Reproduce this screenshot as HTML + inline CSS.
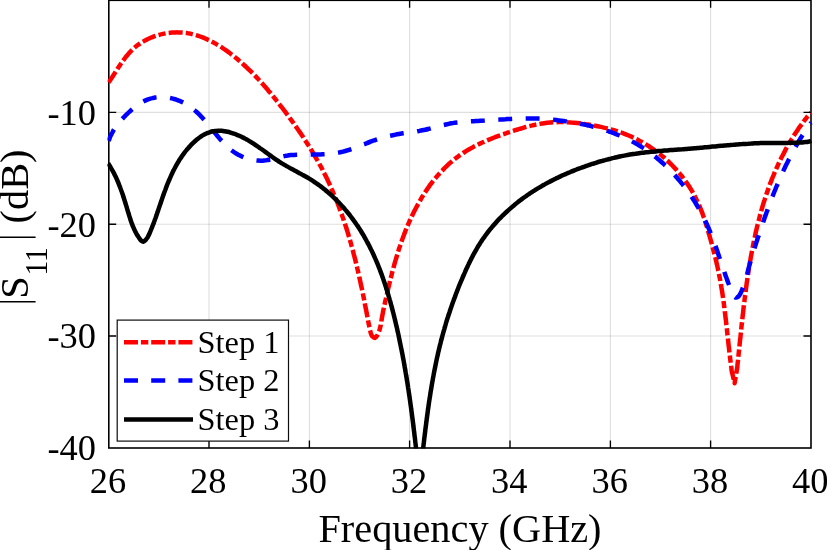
<!DOCTYPE html>
<html>
<head>
<meta charset="utf-8">
<title>S11 plot</title>
<style>
html,body{margin:0;padding:0;background:#fff;}
body{width:827px;height:550px;overflow:hidden;font-family:"Liberation Serif",serif;}
svg{display:block;will-change:transform;}
text{font-family:"Liberation Serif",serif;fill:#000;}
.tick{font-size:36.4px;}
.lab{font-size:40.3px;}
.leg{font-size:32.4px;}
</style>
</head>
<body>
<svg width="827" height="550" viewBox="0 0 827 550">
<rect x="0" y="0" width="827" height="550" fill="#ffffff"/>
<defs>
<clipPath id="box"><rect x="107.4" y="0" width="705.2" height="448.6"/></clipPath>
</defs>
<!-- grid -->
<g stroke="#262626" stroke-opacity="0.15" stroke-width="1.15" fill="none">
<line x1="209" y1="0" x2="209" y2="448"/>
<line x1="309.4" y1="0" x2="309.4" y2="448"/>
<line x1="409.6" y1="0" x2="409.6" y2="448"/>
<line x1="510" y1="0" x2="510" y2="448"/>
<line x1="610.4" y1="0" x2="610.4" y2="448"/>
<line x1="710.6" y1="0" x2="710.6" y2="448"/>
<line x1="108.7" y1="112.4" x2="811" y2="112.4"/>
<line x1="108.7" y1="224.2" x2="811" y2="224.2"/>
<line x1="108.7" y1="336" x2="811" y2="336"/>
</g>
<!-- axes box -->
<g stroke="#000" stroke-width="1.6" fill="none">
<rect x="108.8" y="0.3" width="702.2" height="447.7"/>
</g>
<!-- curves -->
<g clip-path="url(#box)" fill="none" stroke-width="4.5" stroke-linejoin="round">
<path stroke="#ff0000" stroke-dasharray="14.05 3.1 7.2 3.1" stroke-dashoffset="1.16" d="M108.7 82.5C109.0 82.1 109.8 80.8 110.3 80.0C110.9 79.1 111.4 78.3 112.0 77.5C112.5 76.6 113.1 75.8 113.6 74.9C114.2 74.1 114.7 73.2 115.2 72.4C115.8 71.5 116.3 70.7 116.9 69.8C117.4 69.0 117.9 68.1 118.5 67.3C119.1 66.5 119.6 65.6 120.2 64.8C120.7 64.0 121.3 63.1 121.9 62.3C122.4 61.5 123.0 60.7 123.6 59.9C124.2 59.1 124.8 58.3 125.4 57.5C126.0 56.7 126.6 56.0 127.3 55.2C127.9 54.4 128.6 53.7 129.2 53.0C129.9 52.2 130.6 51.5 131.2 50.8C131.9 50.1 132.6 49.4 133.4 48.7C134.1 48.1 134.8 47.4 135.6 46.8C136.4 46.2 137.2 45.5 138.0 44.9C138.8 44.4 139.6 43.8 140.4 43.2C141.3 42.7 142.1 42.1 143.0 41.6C143.9 41.1 144.8 40.6 145.7 40.1C146.6 39.7 147.5 39.2 148.4 38.8C149.4 38.3 150.3 37.9 151.2 37.5C152.2 37.1 153.2 36.8 154.1 36.4C155.1 36.1 156.1 35.7 157.1 35.4C158.0 35.1 159.0 34.8 160.0 34.6C161.0 34.3 162.0 34.1 163.0 33.9C164.0 33.7 165.0 33.5 166.0 33.3C167.1 33.1 168.1 33.0 169.1 32.9C170.1 32.7 171.1 32.6 172.1 32.5C173.1 32.5 174.1 32.4 175.1 32.4C176.1 32.4 177.1 32.3 178.1 32.4C179.1 32.4 180.1 32.4 181.1 32.5C182.1 32.6 183.0 32.6 184.0 32.7C185.0 32.9 186.0 33.0 186.9 33.1C187.9 33.3 188.9 33.5 189.8 33.6C190.8 33.8 191.7 34.0 192.7 34.3C193.6 34.5 194.6 34.8 195.5 35.0C196.5 35.3 197.4 35.6 198.3 35.9C199.3 36.2 200.2 36.5 201.1 36.8C202.0 37.2 203.0 37.5 203.9 37.9C204.8 38.3 205.7 38.7 206.6 39.1C207.5 39.5 208.4 39.9 209.3 40.3C210.2 40.8 211.1 41.2 212.0 41.7C212.8 42.1 213.7 42.6 214.6 43.1C215.5 43.6 216.3 44.1 217.2 44.6C218.1 45.1 218.9 45.6 219.8 46.2C220.6 46.7 221.5 47.2 222.3 47.8C223.1 48.3 224.0 48.9 224.8 49.5C225.6 50.1 226.5 50.6 227.3 51.2C228.1 51.8 228.9 52.4 229.7 53.0C230.5 53.6 231.3 54.3 232.1 54.9C232.9 55.5 233.7 56.1 234.5 56.8C235.3 57.4 236.1 58.1 236.9 58.7C237.6 59.4 238.4 60.0 239.2 60.7C240.0 61.3 240.7 62.0 241.5 62.7C242.2 63.3 243.0 64.0 243.7 64.7C244.5 65.4 245.2 66.0 245.9 66.7C246.7 67.4 247.4 68.1 248.1 68.8C248.8 69.5 249.6 70.2 250.3 70.9C251.0 71.6 251.7 72.3 252.4 73.0C253.1 73.7 253.8 74.4 254.5 75.2C255.2 75.9 255.9 76.6 256.6 77.3C257.3 78.0 257.9 78.8 258.6 79.5C259.3 80.2 260.0 81.0 260.6 81.7C261.3 82.5 262.0 83.2 262.7 84.0C263.3 84.7 264.0 85.5 264.6 86.2C265.3 87.0 265.9 87.7 266.6 88.5C267.2 89.2 267.9 90.0 268.5 90.8C269.2 91.5 269.8 92.3 270.5 93.1C271.1 93.8 271.7 94.6 272.4 95.4C273.0 96.1 273.6 96.9 274.2 97.7C274.9 98.5 275.5 99.3 276.1 100.0C276.7 100.8 277.4 101.6 278.0 102.4C278.6 103.2 279.2 104.0 279.8 104.8C280.4 105.6 281.0 106.4 281.6 107.1C282.3 107.9 282.9 108.7 283.5 109.5C284.1 110.3 284.7 111.1 285.3 111.9C285.9 112.7 286.5 113.5 287.1 114.3C287.7 115.1 288.3 115.9 288.9 116.7C289.4 117.6 290.0 118.4 290.6 119.2C291.2 120.0 291.8 120.8 292.4 121.6C293.0 122.4 293.6 123.2 294.1 124.0C294.7 124.9 295.3 125.7 295.9 126.5C296.4 127.3 297.0 128.1 297.6 129.0C298.2 129.8 298.7 130.6 299.3 131.4C299.9 132.3 300.4 133.1 301.0 133.9C301.5 134.7 302.1 135.6 302.7 136.4C303.2 137.2 303.8 138.1 304.3 138.9C304.9 139.7 305.4 140.6 305.9 141.4C306.5 142.3 307.0 143.1 307.6 144.0C308.1 144.8 308.6 145.6 309.2 146.5C309.7 147.3 310.2 148.2 310.7 149.0C311.3 149.9 311.8 150.7 312.3 151.6C312.8 152.5 313.3 153.3 313.8 154.2C314.3 155.0 314.8 155.9 315.3 156.8C315.8 157.6 316.3 158.5 316.8 159.4C317.3 160.2 317.8 161.1 318.3 162.0C318.8 162.9 319.3 163.7 319.7 164.6C320.2 165.5 320.7 166.4 321.2 167.2C321.6 168.1 322.1 169.0 322.6 169.9C323.0 170.8 323.5 171.7 323.9 172.6C324.4 173.5 324.8 174.4 325.3 175.3C325.7 176.1 326.2 177.0 326.6 177.9C327.0 178.8 327.5 179.8 327.9 180.7C328.3 181.6 328.7 182.5 329.2 183.4C329.6 184.3 330.0 185.2 330.4 186.1C330.8 187.0 331.2 187.9 331.6 188.9C332.0 189.8 332.4 190.7 332.8 191.6C333.2 192.5 333.6 193.4 334.0 194.4C334.4 195.3 334.8 196.2 335.1 197.1C335.5 198.1 335.9 199.0 336.3 199.9C336.6 200.9 337.0 201.8 337.4 202.7C337.7 203.7 338.1 204.6 338.5 205.5C338.8 206.5 339.2 207.4 339.5 208.4C339.9 209.3 340.2 210.2 340.6 211.2C340.9 212.1 341.2 213.1 341.6 214.0C341.9 215.0 342.2 215.9 342.6 216.8C342.9 217.8 343.2 218.7 343.6 219.7C343.9 220.6 344.2 221.6 344.5 222.5C344.8 223.5 345.1 224.5 345.5 225.4C345.8 226.4 346.1 227.3 346.4 228.3C346.7 229.2 347.0 230.2 347.3 231.1C347.6 232.1 347.9 233.1 348.2 234.0C348.5 235.0 348.7 235.9 349.0 236.9C349.3 237.9 349.6 238.8 349.9 239.8C350.2 240.8 350.4 241.7 350.7 242.7C351.0 243.7 351.2 244.6 351.5 245.6C351.8 246.5 352.0 247.5 352.3 248.5C352.6 249.4 352.8 250.4 353.1 251.4C353.3 252.4 353.6 253.3 353.8 254.3C354.1 255.3 354.3 256.2 354.6 257.2C354.8 258.2 355.1 259.1 355.3 260.1C355.6 261.1 355.8 262.1 356.0 263.0C356.3 264.0 356.5 265.0 356.7 265.9C357.0 266.9 357.2 267.9 357.4 268.9C357.7 269.8 357.9 270.8 358.1 271.8C358.3 272.8 358.6 273.7 358.8 274.7C359.0 275.7 359.2 276.7 359.4 277.6C359.7 278.6 359.9 279.6 360.1 280.6C360.3 281.5 360.5 282.5 360.7 283.5C360.9 284.5 361.1 285.5 361.3 286.4C361.6 287.4 361.8 288.4 362.0 289.4C362.2 290.3 362.4 291.3 362.6 292.3C362.8 293.3 363.0 294.3 363.2 295.2C363.4 296.2 363.6 297.2 363.8 298.2C364.0 299.2 364.2 300.1 364.4 301.1C364.6 302.1 364.7 303.1 364.9 304.1C365.1 305.0 365.3 306.0 365.5 307.0C365.7 308.0 365.9 309.0 366.1 310.0C366.3 310.9 366.5 311.9 366.6 312.9C366.8 313.9 367.0 314.9 367.2 315.8C367.4 316.8 367.6 317.8 367.8 318.8C368.0 319.8 368.1 320.8 368.3 321.7C368.5 322.7 368.7 323.7 368.9 324.7C369.1 325.7 369.3 326.6 369.5 327.6C369.7 328.6 369.9 329.6 370.2 330.6C370.4 331.6 370.6 332.6 370.9 333.5C371.3 334.5 371.6 335.6 372.3 336.3C372.9 337.0 374.1 337.9 374.9 337.9C375.6 337.8 376.3 336.8 376.8 336.0C377.4 335.3 377.9 334.3 378.3 333.4C378.7 332.5 379.0 331.5 379.3 330.6C379.6 329.6 379.9 328.7 380.1 327.7C380.4 326.7 380.6 325.7 380.8 324.7C380.9 323.7 381.1 322.7 381.3 321.7C381.4 320.7 381.6 319.7 381.8 318.7C381.9 317.7 382.1 316.7 382.3 315.7C382.5 314.7 382.7 313.7 382.9 312.8C383.0 311.8 383.2 310.8 383.4 309.8C383.7 308.8 383.9 307.9 384.1 306.9C384.3 305.9 384.5 304.9 384.7 304.0C384.9 303.0 385.1 302.0 385.4 301.0C385.6 300.1 385.8 299.1 386.0 298.1C386.2 297.1 386.5 296.2 386.7 295.2C386.9 294.2 387.1 293.3 387.4 292.3C387.6 291.3 387.8 290.3 388.0 289.4C388.3 288.4 388.5 287.4 388.7 286.5C389.0 285.5 389.2 284.5 389.4 283.5C389.7 282.6 389.9 281.6 390.1 280.6C390.4 279.7 390.6 278.7 390.9 277.7C391.1 276.8 391.3 275.8 391.6 274.8C391.8 273.9 392.1 272.9 392.3 271.9C392.6 271.0 392.9 270.0 393.1 269.0C393.4 268.1 393.6 267.1 393.9 266.2C394.2 265.2 394.4 264.2 394.7 263.3C395.0 262.3 395.2 261.3 395.5 260.4C395.8 259.4 396.1 258.5 396.4 257.5C396.7 256.6 396.9 255.6 397.2 254.7C397.5 253.7 397.8 252.7 398.1 251.8C398.4 250.8 398.7 249.9 399.0 248.9C399.3 248.0 399.7 247.0 400.0 246.1C400.3 245.1 400.6 244.2 400.9 243.3C401.3 242.3 401.6 241.4 401.9 240.4C402.3 239.5 402.6 238.5 402.9 237.6C403.3 236.7 403.6 235.7 404.0 234.8C404.3 233.9 404.7 232.9 405.1 232.0C405.4 231.1 405.8 230.1 406.2 229.2C406.6 228.3 406.9 227.3 407.3 226.4C407.7 225.5 408.1 224.6 408.5 223.6C408.9 222.7 409.3 221.8 409.7 220.9C410.1 220.0 410.5 219.0 411.0 218.1C411.4 217.2 411.8 216.3 412.3 215.4C412.7 214.5 413.1 213.6 413.6 212.7C414.0 211.8 414.5 210.9 414.9 210.0C415.4 209.1 415.9 208.2 416.3 207.3C416.8 206.4 417.3 205.5 417.8 204.6C418.3 203.7 418.8 202.8 419.3 202.0C419.8 201.1 420.3 200.2 420.8 199.3C421.3 198.5 421.8 197.6 422.3 196.7C422.9 195.9 423.4 195.0 423.9 194.2C424.5 193.3 425.0 192.5 425.6 191.6C426.1 190.8 426.7 190.0 427.2 189.1C427.8 188.3 428.4 187.5 429.0 186.7C429.5 185.8 430.1 185.0 430.7 184.2C431.3 183.4 431.9 182.6 432.5 181.8C433.2 181.0 433.8 180.2 434.4 179.5C435.0 178.7 435.7 177.9 436.3 177.1C436.9 176.4 437.6 175.6 438.2 174.9C438.9 174.1 439.6 173.4 440.2 172.6C440.9 171.9 441.6 171.2 442.3 170.5C442.9 169.8 443.6 169.0 444.3 168.3C445.0 167.6 445.7 166.9 446.5 166.3C447.2 165.6 447.9 164.9 448.6 164.2C449.4 163.6 450.1 162.9 450.9 162.3C451.6 161.6 452.4 161.0 453.1 160.3C453.9 159.7 454.7 159.1 455.4 158.5C456.2 157.9 457.0 157.3 457.8 156.7C458.6 156.1 459.4 155.5 460.2 155.0C461.0 154.4 461.9 153.8 462.7 153.3C463.5 152.7 464.3 152.2 465.2 151.7C466.0 151.2 466.9 150.6 467.7 150.1C468.6 149.6 469.5 149.1 470.3 148.6C471.2 148.1 472.1 147.6 473.0 147.2C473.8 146.7 474.7 146.2 475.6 145.8C476.5 145.3 477.4 144.9 478.3 144.4C479.2 144.0 480.1 143.5 481.0 143.1C481.9 142.7 482.9 142.3 483.8 141.9C484.7 141.4 485.6 141.0 486.6 140.6C487.5 140.2 488.4 139.8 489.4 139.5C490.3 139.1 491.2 138.7 492.2 138.3C493.1 137.9 494.1 137.6 495.0 137.2C496.0 136.8 496.9 136.5 497.9 136.1C498.8 135.8 499.8 135.4 500.7 135.1C501.7 134.7 502.6 134.4 503.6 134.1C504.6 133.7 505.5 133.4 506.5 133.1C507.4 132.8 508.4 132.4 509.4 132.1C510.3 131.8 511.3 131.5 512.2 131.2C513.2 130.9 514.2 130.5 515.1 130.2C516.1 129.9 517.1 129.6 518.0 129.3C519.0 129.0 519.9 128.8 520.9 128.5C521.9 128.2 522.8 127.9 523.8 127.6C524.8 127.4 525.7 127.1 526.7 126.8C527.7 126.6 528.6 126.3 529.6 126.1C530.5 125.8 531.5 125.6 532.5 125.4C533.5 125.2 534.4 124.9 535.4 124.7C536.4 124.5 537.3 124.3 538.3 124.1C539.3 124.0 540.3 123.8 541.2 123.6C542.2 123.5 543.2 123.3 544.2 123.2C545.1 123.1 546.1 122.9 547.1 122.8C548.1 122.7 549.1 122.6 550.1 122.5C551.1 122.5 552.0 122.4 553.0 122.3C554.0 122.3 555.0 122.2 556.0 122.2C557.0 122.1 558.0 122.1 559.0 122.1C560.0 122.1 561.0 122.1 562.0 122.1C563.0 122.1 564.0 122.1 565.0 122.2C566.0 122.2 567.0 122.2 568.0 122.3C569.0 122.3 570.0 122.4 571.0 122.5C572.0 122.5 573.0 122.6 574.0 122.7C574.9 122.8 575.9 122.9 576.9 123.0C577.9 123.1 578.9 123.2 579.9 123.3C580.9 123.5 581.9 123.6 582.9 123.7C583.9 123.9 584.9 124.0 585.9 124.2C586.9 124.3 587.9 124.5 588.9 124.6C589.9 124.8 590.9 125.0 591.9 125.2C592.9 125.3 593.9 125.5 594.9 125.7C595.9 125.9 596.8 126.1 597.8 126.3C598.8 126.5 599.8 126.7 600.8 126.9C601.8 127.1 602.8 127.3 603.7 127.6C604.7 127.8 605.7 128.0 606.7 128.3C607.6 128.5 608.6 128.8 609.6 129.0C610.5 129.3 611.5 129.5 612.5 129.8C613.4 130.1 614.4 130.4 615.4 130.7C616.3 130.9 617.3 131.2 618.2 131.6C619.2 131.9 620.1 132.2 621.1 132.5C622.0 132.9 622.9 133.2 623.9 133.6C624.8 133.9 625.7 134.3 626.7 134.7C627.6 135.1 628.5 135.4 629.4 135.8C630.4 136.2 631.3 136.7 632.2 137.1C633.1 137.5 634.0 137.9 634.9 138.4C635.8 138.8 636.7 139.3 637.6 139.7C638.5 140.2 639.3 140.6 640.2 141.1C641.1 141.6 642.0 142.1 642.8 142.6C643.7 143.1 644.6 143.6 645.4 144.1C646.3 144.6 647.1 145.2 648.0 145.7C648.8 146.2 649.7 146.8 650.5 147.3C651.3 147.9 652.1 148.5 653.0 149.0C653.8 149.6 654.6 150.2 655.4 150.8C656.2 151.4 657.0 152.0 657.8 152.6C658.6 153.2 659.4 153.8 660.2 154.4C661.0 155.1 661.7 155.7 662.5 156.4C663.3 157.0 664.0 157.6 664.8 158.3C665.5 159.0 666.3 159.6 667.0 160.3C667.8 161.0 668.5 161.7 669.2 162.4C669.9 163.1 670.6 163.8 671.4 164.5C672.1 165.2 672.8 165.9 673.4 166.6C674.1 167.3 674.8 168.1 675.5 168.8C676.2 169.5 676.8 170.3 677.5 171.0C678.2 171.8 678.8 172.5 679.5 173.3C680.1 174.1 680.7 174.8 681.3 175.6C682.0 176.4 682.6 177.2 683.2 178.0C683.8 178.8 684.4 179.6 685.0 180.4C685.6 181.2 686.2 182.0 686.7 182.8C687.3 183.7 687.8 184.5 688.4 185.3C688.9 186.1 689.5 187.0 690.0 187.8C690.5 188.7 691.1 189.5 691.6 190.4C692.1 191.2 692.6 192.1 693.1 193.0C693.6 193.8 694.1 194.7 694.5 195.6C695.0 196.5 695.5 197.4 695.9 198.3C696.3 199.2 696.8 200.1 697.2 201.0C697.6 201.9 698.1 202.8 698.5 203.7C698.9 204.6 699.3 205.5 699.7 206.4C700.0 207.3 700.4 208.3 700.8 209.2C701.2 210.1 701.5 211.1 701.9 212.0C702.2 212.9 702.6 213.9 702.9 214.8C703.3 215.8 703.6 216.7 703.9 217.7C704.3 218.6 704.6 219.6 704.9 220.5C705.2 221.5 705.5 222.4 705.8 223.4C706.1 224.4 706.4 225.3 706.7 226.3C707.0 227.2 707.3 228.2 707.6 229.2C707.9 230.1 708.2 231.1 708.4 232.1C708.7 233.0 709.0 234.0 709.3 235.0C709.5 235.9 709.8 236.9 710.1 237.9C710.4 238.8 710.6 239.8 710.9 240.8C711.2 241.7 711.4 242.7 711.7 243.7C711.9 244.6 712.2 245.6 712.5 246.6C712.7 247.5 713.0 248.5 713.2 249.5C713.5 250.4 713.7 251.4 714.0 252.4C714.2 253.3 714.5 254.3 714.7 255.3C715.0 256.2 715.2 257.2 715.5 258.2C715.7 259.1 715.9 260.1 716.2 261.1C716.4 262.0 716.6 263.0 716.8 264.0C717.1 264.9 717.3 265.9 717.5 266.9C717.7 267.9 717.9 268.8 718.1 269.8C718.3 270.8 718.6 271.8 718.8 272.7C718.9 273.7 719.1 274.7 719.3 275.7C719.5 276.6 719.7 277.6 719.9 278.6C720.1 279.6 720.3 280.6 720.4 281.6C720.6 282.5 720.8 283.5 720.9 284.5C721.1 285.5 721.3 286.5 721.4 287.5C721.6 288.5 721.8 289.4 721.9 290.4C722.1 291.4 722.2 292.4 722.4 293.4C722.5 294.4 722.7 295.4 722.8 296.4C723.0 297.4 723.1 298.4 723.2 299.3C723.4 300.3 723.5 301.3 723.7 302.3C723.8 303.3 723.9 304.3 724.0 305.3C724.2 306.3 724.3 307.3 724.4 308.3C724.6 309.3 724.7 310.3 724.8 311.3C724.9 312.3 725.1 313.3 725.2 314.3C725.3 315.3 725.4 316.3 725.5 317.3C725.6 318.3 725.8 319.3 725.9 320.2C726.0 321.2 726.1 322.2 726.2 323.2C726.3 324.2 726.4 325.2 726.6 326.2C726.7 327.2 726.8 328.2 726.9 329.2C727.0 330.2 727.1 331.2 727.2 332.2C727.3 333.2 727.4 334.2 727.5 335.2C727.7 336.2 727.8 337.2 727.9 338.2C728.0 339.2 728.1 340.2 728.2 341.2C728.3 342.2 728.4 343.2 728.5 344.2C728.6 345.2 728.7 346.2 728.9 347.2C729.0 348.2 729.1 349.2 729.2 350.2C729.3 351.2 729.4 352.2 729.5 353.1C729.7 354.1 729.8 355.1 729.9 356.1C730.0 357.1 730.1 358.1 730.2 359.1C730.4 360.1 730.5 361.1 730.6 362.1C730.7 363.1 730.9 364.1 731.0 365.0C731.1 366.0 731.3 367.0 731.4 368.0C731.5 369.0 731.6 370.5 731.7 371.0C732.2 373.0 734.1 381.2 734.6 383.2C735.0 380.6 736.8 370.1 737.3 367.5C737.3 367.0 737.5 365.3 737.5 364.3C737.6 363.3 737.8 362.3 737.9 361.3C738.0 360.4 738.1 359.4 738.2 358.4C738.3 357.4 738.4 356.4 738.5 355.4C738.6 354.4 738.7 353.5 738.8 352.5C738.9 351.5 739.0 350.5 739.1 349.5C739.2 348.5 739.3 347.5 739.4 346.5C739.5 345.5 739.6 344.5 739.7 343.5C739.8 342.5 739.9 341.5 740.0 340.5C740.1 339.6 740.3 338.6 740.4 337.6C740.5 336.6 740.6 335.6 740.7 334.6C740.8 333.6 740.9 332.6 741.0 331.6C741.1 330.6 741.2 329.6 741.3 328.6C741.4 327.6 741.5 326.5 741.6 325.5C741.7 324.5 741.8 323.5 742.0 322.5C742.1 321.5 742.2 320.5 742.3 319.5C742.4 318.5 742.5 317.5 742.6 316.5C742.7 315.5 742.8 314.5 743.0 313.5C743.1 312.5 743.2 311.5 743.3 310.5C743.4 309.5 743.5 308.4 743.6 307.4C743.8 306.4 743.9 305.4 744.0 304.4C744.1 303.4 744.2 302.4 744.4 301.4C744.5 300.4 744.6 299.4 744.7 298.4C744.9 297.4 745.0 296.4 745.1 295.3C745.3 294.3 745.4 293.3 745.5 292.3C745.6 291.3 745.8 290.3 745.9 289.3C746.0 288.3 746.2 287.3 746.3 286.3C746.5 285.3 746.6 284.2 746.7 283.2C746.9 282.2 747.0 281.2 747.2 280.2C747.3 279.2 747.5 278.2 747.6 277.2C747.8 276.2 747.9 275.2 748.1 274.2C748.2 273.2 748.4 272.2 748.5 271.2C748.7 270.1 748.8 269.1 749.0 268.1C749.2 267.1 749.3 266.1 749.5 265.1C749.6 264.1 749.8 263.1 750.0 262.1C750.2 261.1 750.3 260.1 750.5 259.1C750.7 258.1 750.8 257.1 751.0 256.1C751.2 255.1 751.4 254.1 751.6 253.1C751.8 252.1 751.9 251.1 752.1 250.1C752.3 249.1 752.5 248.1 752.7 247.1C752.9 246.1 753.1 245.1 753.3 244.1C753.5 243.1 753.7 242.1 753.9 241.1C754.1 240.1 754.3 239.2 754.5 238.2C754.8 237.2 755.0 236.2 755.2 235.2C755.4 234.2 755.6 233.2 755.8 232.2C756.1 231.2 756.3 230.2 756.5 229.3C756.8 228.3 757.0 227.3 757.2 226.3C757.5 225.3 757.7 224.3 758.0 223.4C758.2 222.4 758.4 221.4 758.7 220.4C759.0 219.4 759.2 218.5 759.5 217.5C759.7 216.5 760.0 215.5 760.2 214.6C760.5 213.6 760.8 212.6 761.1 211.6C761.3 210.7 761.6 209.7 761.9 208.7C762.2 207.8 762.4 206.8 762.7 205.8C763.0 204.9 763.3 203.9 763.6 202.9C763.9 202.0 764.2 201.0 764.5 200.1C764.8 199.1 765.1 198.1 765.4 197.2C765.7 196.2 766.1 195.3 766.4 194.3C766.7 193.4 767.0 192.4 767.4 191.5C767.7 190.5 768.0 189.6 768.4 188.6C768.7 187.7 769.0 186.7 769.4 185.8C769.7 184.9 770.1 183.9 770.4 183.0C770.8 182.0 771.2 181.1 771.5 180.2C771.9 179.2 772.3 178.3 772.6 177.4C773.0 176.4 773.4 175.5 773.8 174.6C774.2 173.7 774.5 172.7 774.9 171.8C775.3 170.9 775.7 170.0 776.1 169.1C776.5 168.1 776.9 167.2 777.4 166.3C777.8 165.4 778.2 164.5 778.6 163.6C779.0 162.7 779.5 161.8 779.9 160.9C780.3 160.0 780.8 159.1 781.2 158.2C781.7 157.3 782.1 156.4 782.6 155.5C783.0 154.6 783.5 153.7 784.0 152.8C784.4 151.9 784.9 151.0 785.4 150.1C785.8 149.2 786.3 148.4 786.8 147.5C787.3 146.6 787.8 145.7 788.3 144.9C788.8 144.0 789.3 143.1 789.8 142.2C790.3 141.4 790.9 140.5 791.4 139.6C791.9 138.8 792.4 137.9 793.0 137.1C793.5 136.2 794.1 135.3 794.6 134.5C795.1 133.6 795.7 132.8 796.3 132.0C796.8 131.1 797.4 130.3 798.0 129.4C798.5 128.6 799.1 127.7 799.7 126.9C800.3 126.1 800.9 125.3 801.5 124.4C802.1 123.6 802.7 122.8 803.3 122.0C803.9 121.1 804.5 120.3 805.2 119.5C805.8 118.7 806.4 117.9 807.0 117.1C807.7 116.3 808.3 115.4 809.0 114.7C809.7 113.9 810.8 113.0 811.2 112.7"/>
<path stroke="#0000ff" stroke-dasharray="13.9 13.52" stroke-dashoffset="1.3" d="M108.7 140.9C108.9 140.4 109.4 139.0 109.7 138.0C110.1 137.1 110.5 136.1 110.9 135.2C111.4 134.3 111.8 133.4 112.3 132.6C112.7 131.7 113.2 130.8 113.7 130.0C114.2 129.1 114.8 128.3 115.3 127.5C115.9 126.7 116.5 125.9 117.0 125.1C117.6 124.3 118.2 123.5 118.9 122.8C119.5 122.0 120.1 121.2 120.8 120.5C121.4 119.8 122.1 119.0 122.8 118.3C123.5 117.6 124.2 116.8 124.9 116.1C125.6 115.4 126.3 114.7 127.1 114.0C127.8 113.3 128.5 112.6 129.3 111.9C130.1 111.2 130.8 110.5 131.6 109.8C132.4 109.1 133.2 108.5 134.0 107.8C134.8 107.2 135.6 106.6 136.4 106.0C137.2 105.3 138.0 104.7 138.9 104.2C139.7 103.6 140.6 103.1 141.5 102.6C142.3 102.1 143.2 101.6 144.1 101.1C145.0 100.7 145.9 100.3 146.8 99.9C147.7 99.5 148.6 99.2 149.6 98.9C150.5 98.5 151.4 98.3 152.4 98.1C153.4 97.8 154.3 97.7 155.3 97.5C156.3 97.4 157.2 97.3 158.2 97.2C159.2 97.1 160.2 97.1 161.2 97.1C162.2 97.1 163.2 97.1 164.2 97.2C165.2 97.3 166.2 97.4 167.2 97.5C168.1 97.6 169.1 97.8 170.1 98.0C171.1 98.2 172.1 98.4 173.1 98.7C174.0 98.9 175.0 99.2 176.0 99.5C176.9 99.9 177.9 100.2 178.8 100.6C179.8 100.9 180.7 101.3 181.6 101.8C182.6 102.2 183.5 102.6 184.4 103.1C185.3 103.6 186.1 104.1 187.0 104.6C187.9 105.1 188.7 105.7 189.5 106.2C190.4 106.8 191.2 107.4 192.0 108.0C192.8 108.6 193.5 109.2 194.3 109.9C195.1 110.5 195.8 111.2 196.5 111.9C197.3 112.5 198.0 113.2 198.7 113.9C199.4 114.6 200.1 115.4 200.8 116.1C201.5 116.8 202.2 117.6 202.9 118.3C203.5 119.1 204.2 119.8 204.9 120.6C205.5 121.3 206.2 122.1 206.8 122.9C207.5 123.7 208.1 124.5 208.7 125.2C209.4 126.0 210.0 126.8 210.7 127.6C211.3 128.4 211.9 129.2 212.6 130.0C213.2 130.8 213.8 131.6 214.5 132.4C215.1 133.1 215.7 133.9 216.4 134.7C217.0 135.5 217.7 136.3 218.3 137.0C219.0 137.8 219.6 138.6 220.3 139.3C220.9 140.1 221.6 140.8 222.3 141.5C222.9 142.3 223.6 143.0 224.3 143.7C225.0 144.4 225.7 145.1 226.4 145.8C227.1 146.5 227.9 147.1 228.6 147.8C229.3 148.4 230.1 149.1 230.8 149.7C231.6 150.3 232.4 150.9 233.2 151.5C234.0 152.1 234.8 152.6 235.6 153.1C236.4 153.7 237.3 154.2 238.1 154.7C239.0 155.1 239.9 155.6 240.8 156.0C241.7 156.5 242.6 156.9 243.5 157.3C244.4 157.6 245.4 158.0 246.3 158.3C247.3 158.6 248.2 158.9 249.2 159.2C250.2 159.4 251.1 159.7 252.1 159.9C253.1 160.1 254.1 160.2 255.1 160.3C256.1 160.5 257.1 160.6 258.1 160.6C259.1 160.7 260.1 160.7 261.1 160.7C262.1 160.7 263.1 160.6 264.1 160.5C265.1 160.4 266.1 160.3 267.1 160.1C268.0 160.0 269.0 159.8 270.0 159.5C271.0 159.3 272.0 159.1 273.0 158.9C274.0 158.6 274.9 158.3 275.9 158.1C276.9 157.8 277.9 157.6 278.9 157.3C279.9 157.1 280.8 156.8 281.8 156.6C282.8 156.4 283.8 156.1 284.8 156.0C285.8 155.8 286.7 155.6 287.7 155.5C288.7 155.3 289.7 155.2 290.7 155.1C291.7 155.0 292.7 154.9 293.7 154.9C294.7 154.8 295.7 154.7 296.7 154.7C297.6 154.7 298.6 154.6 299.6 154.6C300.6 154.6 301.6 154.6 302.6 154.6C303.6 154.6 304.6 154.6 305.6 154.6C306.6 154.6 307.6 154.6 308.6 154.6C309.6 154.6 310.6 154.6 311.6 154.6C312.6 154.6 313.6 154.6 314.6 154.6C315.6 154.5 316.6 154.5 317.7 154.5C318.7 154.5 319.7 154.5 320.7 154.4C321.7 154.4 322.7 154.3 323.7 154.3C324.7 154.2 325.7 154.2 326.7 154.1C327.7 154.0 328.7 153.9 329.6 153.8C330.6 153.7 331.6 153.6 332.6 153.5C333.6 153.4 334.6 153.2 335.6 153.1C336.6 152.9 337.5 152.8 338.5 152.6C339.5 152.4 340.5 152.2 341.4 152.0C342.4 151.8 343.4 151.5 344.3 151.3C345.3 151.0 346.3 150.7 347.2 150.4C348.2 150.2 349.1 149.8 350.1 149.5C351.0 149.2 352.0 148.9 352.9 148.5C353.9 148.2 354.8 147.8 355.7 147.5C356.7 147.1 357.6 146.8 358.5 146.4C359.5 146.0 360.4 145.7 361.4 145.3C362.3 144.9 363.2 144.5 364.2 144.2C365.1 143.8 366.0 143.4 367.0 143.1C367.9 142.7 368.9 142.3 369.8 142.0C370.7 141.6 371.7 141.3 372.6 140.9C373.6 140.6 374.5 140.3 375.5 140.0C376.4 139.6 377.4 139.3 378.3 139.0C379.3 138.7 380.2 138.4 381.2 138.1C382.1 137.9 383.1 137.6 384.1 137.3C385.0 137.1 386.0 136.8 386.9 136.6C387.9 136.3 388.9 136.1 389.8 135.8C390.8 135.6 391.8 135.4 392.7 135.2C393.7 135.0 394.7 134.8 395.7 134.6C396.6 134.4 397.6 134.2 398.6 134.0C399.6 133.8 400.6 133.7 401.6 133.5C402.5 133.4 403.5 133.2 404.5 133.1C405.5 132.9 406.5 132.8 407.5 132.6C408.5 132.5 409.5 132.4 410.5 132.2C411.5 132.1 412.5 131.9 413.4 131.8C414.4 131.7 415.4 131.5 416.4 131.4C417.4 131.2 418.4 131.0 419.4 130.9C420.4 130.7 421.4 130.5 422.3 130.3C423.3 130.1 424.3 129.9 425.3 129.7C426.3 129.5 427.2 129.3 428.2 129.0C429.2 128.8 430.2 128.6 431.1 128.3C432.1 128.1 433.1 127.8 434.1 127.5C435.0 127.3 436.0 127.0 437.0 126.8C438.0 126.5 438.9 126.2 439.9 126.0C440.9 125.7 441.8 125.5 442.8 125.2C443.8 125.0 444.8 124.8 445.7 124.5C446.7 124.3 447.7 124.1 448.7 123.9C449.6 123.7 450.6 123.5 451.6 123.3C452.6 123.2 453.5 123.0 454.5 122.8C455.5 122.7 456.5 122.6 457.5 122.5C458.5 122.3 459.5 122.2 460.4 122.1C461.4 122.0 462.4 121.9 463.4 121.9C464.4 121.8 465.4 121.7 466.4 121.6C467.4 121.6 468.4 121.5 469.4 121.4C470.4 121.4 471.4 121.3 472.4 121.3C473.4 121.2 474.4 121.2 475.4 121.1C476.4 121.0 477.4 121.0 478.4 120.9C479.4 120.9 480.4 120.8 481.4 120.8C482.4 120.7 483.4 120.6 484.4 120.6C485.4 120.5 486.4 120.4 487.4 120.4C488.4 120.3 489.4 120.2 490.4 120.2C491.4 120.1 492.4 120.0 493.4 120.0C494.4 119.9 495.4 119.8 496.4 119.8C497.4 119.7 498.4 119.6 499.4 119.6C500.4 119.5 501.4 119.4 502.4 119.4C503.4 119.3 504.5 119.2 505.5 119.2C506.5 119.1 507.5 119.1 508.5 119.0C509.5 119.0 510.5 118.9 511.5 118.9C512.5 118.8 513.5 118.8 514.5 118.7C515.5 118.7 516.5 118.6 517.5 118.6C518.5 118.6 519.5 118.5 520.5 118.5C521.5 118.5 522.5 118.5 523.5 118.4C524.5 118.4 525.5 118.4 526.5 118.4C527.5 118.4 528.5 118.4 529.5 118.4C530.5 118.4 531.5 118.4 532.5 118.4C533.5 118.5 534.4 118.5 535.4 118.5C536.4 118.5 537.4 118.6 538.4 118.6C539.4 118.7 540.4 118.7 541.4 118.8C542.4 118.8 543.4 118.9 544.4 119.0C545.4 119.0 546.4 119.1 547.3 119.2C548.3 119.2 549.3 119.3 550.3 119.4C551.3 119.5 552.3 119.6 553.3 119.7C554.3 119.8 555.3 119.9 556.3 120.0C557.2 120.1 558.2 120.3 559.2 120.4C560.2 120.5 561.2 120.6 562.2 120.8C563.2 120.9 564.2 121.0 565.2 121.2C566.2 121.3 567.2 121.4 568.1 121.6C569.1 121.7 570.1 121.9 571.1 122.1C572.1 122.2 573.1 122.4 574.1 122.6C575.1 122.7 576.1 122.9 577.1 123.1C578.0 123.3 579.0 123.5 580.0 123.7C581.0 123.9 582.0 124.1 583.0 124.3C584.0 124.5 584.9 124.7 585.9 124.9C586.9 125.1 587.9 125.4 588.9 125.6C589.8 125.8 590.8 126.1 591.8 126.3C592.8 126.6 593.7 126.8 594.7 127.1C595.7 127.3 596.7 127.6 597.6 127.9C598.6 128.2 599.6 128.4 600.5 128.7C601.5 129.0 602.4 129.3 603.4 129.6C604.3 129.9 605.3 130.2 606.3 130.5C607.2 130.8 608.2 131.2 609.1 131.5C610.0 131.8 611.0 132.2 611.9 132.5C612.9 132.9 613.8 133.2 614.7 133.6C615.7 133.9 616.6 134.3 617.5 134.7C618.4 135.1 619.4 135.4 620.3 135.8C621.2 136.2 622.1 136.6 623.0 137.0C623.9 137.4 624.8 137.9 625.7 138.3C626.6 138.7 627.5 139.1 628.4 139.6C629.3 140.0 630.2 140.5 631.1 140.9C632.0 141.4 632.9 141.9 633.7 142.3C634.6 142.8 635.5 143.3 636.3 143.8C637.2 144.3 638.1 144.8 638.9 145.3C639.8 145.8 640.6 146.3 641.5 146.9C642.3 147.4 643.1 148.0 644.0 148.5C644.8 149.0 645.6 149.6 646.4 150.2C647.3 150.7 648.1 151.3 648.9 151.9C649.7 152.5 650.5 153.1 651.3 153.7C652.1 154.3 652.9 154.9 653.7 155.5C654.5 156.1 655.3 156.7 656.0 157.3C656.8 158.0 657.6 158.6 658.3 159.3C659.1 159.9 659.9 160.6 660.6 161.2C661.4 161.9 662.1 162.5 662.9 163.2C663.6 163.9 664.3 164.6 665.1 165.3C665.8 165.9 666.5 166.6 667.3 167.3C668.0 168.0 668.7 168.7 669.4 169.5C670.1 170.2 670.8 170.9 671.5 171.6C672.2 172.3 672.9 173.1 673.6 173.8C674.2 174.6 674.9 175.3 675.6 176.1C676.3 176.8 676.9 177.6 677.6 178.3C678.2 179.1 678.9 179.9 679.5 180.6C680.2 181.4 680.8 182.2 681.4 183.0C682.1 183.7 682.7 184.5 683.3 185.3C683.9 186.1 684.6 186.9 685.2 187.7C685.8 188.5 686.4 189.3 687.0 190.2C687.6 191.0 688.1 191.8 688.7 192.6C689.3 193.4 689.9 194.3 690.4 195.1C691.0 195.9 691.6 196.8 692.1 197.6C692.7 198.5 693.2 199.3 693.8 200.1C694.3 201.0 694.8 201.8 695.4 202.7C695.9 203.6 696.4 204.4 696.9 205.3C697.4 206.1 698.0 207.0 698.5 207.9C699.0 208.8 699.4 209.6 699.9 210.5C700.4 211.4 700.9 212.3 701.4 213.1C701.8 214.0 702.3 214.9 702.8 215.8C703.2 216.7 703.7 217.6 704.1 218.5C704.5 219.4 705.0 220.3 705.4 221.2C705.8 222.1 706.3 223.0 706.7 223.9C707.1 224.8 707.5 225.7 707.9 226.6C708.3 227.5 708.7 228.4 709.1 229.3C709.5 230.2 709.8 231.1 710.2 232.0C710.6 233.0 710.9 233.9 711.3 234.8C711.7 235.7 712.0 236.6 712.4 237.6C712.7 238.5 713.1 239.4 713.4 240.3C713.8 241.3 714.1 242.2 714.4 243.1C714.8 244.0 715.1 245.0 715.4 245.9C715.8 246.8 716.1 247.8 716.4 248.7C716.8 249.6 717.1 250.6 717.4 251.5C717.7 252.5 718.0 253.4 718.4 254.3C718.7 255.3 719.0 256.2 719.3 257.2C719.6 258.1 720.0 259.1 720.3 260.0C720.6 261.0 720.9 261.9 721.2 262.9C721.5 263.8 721.9 264.8 722.2 265.7C722.5 266.7 722.8 267.6 723.2 268.6C723.5 269.6 723.8 270.5 724.2 271.5C724.5 272.4 724.8 273.4 725.2 274.4C725.5 275.3 725.8 276.3 726.2 277.2C726.5 278.2 726.9 279.2 727.2 280.1C727.6 281.1 728.0 282.1 728.3 283.0C728.7 284.0 729.1 285.0 729.4 286.0C729.8 286.9 730.2 287.9 730.6 288.9C731.0 289.8 731.4 290.8 731.8 291.8C732.2 292.8 732.6 293.8 733.0 294.6C733.5 295.4 733.9 296.2 734.4 296.7C735.0 297.2 735.5 297.6 736.1 297.6C736.7 297.6 737.4 297.3 738.0 296.8C738.7 296.3 739.3 295.5 739.8 294.6C740.3 293.8 740.8 292.7 741.3 291.7C741.8 290.6 742.2 289.5 742.6 288.4C743.0 287.4 743.4 286.3 743.7 285.3C744.1 284.3 744.4 283.3 744.8 282.3C745.1 281.3 745.4 280.3 745.7 279.3C746.0 278.4 746.2 277.4 746.5 276.5C746.8 275.5 747.0 274.6 747.3 273.6C747.5 272.7 747.8 271.8 748.0 270.8C748.2 269.9 748.5 269.0 748.7 268.1C748.9 267.1 749.2 266.2 749.4 265.3C749.7 264.4 749.9 263.4 750.2 262.5C750.4 261.6 750.7 260.6 751.0 259.7C751.2 258.7 751.5 257.8 751.8 256.9C752.1 255.9 752.4 255.0 752.7 254.0C753.0 253.0 753.3 252.1 753.6 251.1C753.9 250.2 754.2 249.2 754.5 248.3C754.8 247.3 755.1 246.3 755.4 245.4C755.7 244.4 756.0 243.4 756.3 242.5C756.7 241.5 757.0 240.6 757.3 239.6C757.6 238.6 757.9 237.7 758.2 236.7C758.6 235.8 758.9 234.8 759.2 233.9C759.5 232.9 759.8 231.9 760.1 231.0C760.5 230.0 760.8 229.1 761.1 228.1C761.4 227.2 761.8 226.2 762.1 225.3C762.4 224.3 762.7 223.3 763.1 222.4C763.4 221.4 763.7 220.5 764.0 219.5C764.4 218.6 764.7 217.6 765.0 216.7C765.4 215.7 765.7 214.8 766.1 213.9C766.4 212.9 766.7 212.0 767.1 211.0C767.4 210.1 767.8 209.1 768.1 208.2C768.4 207.2 768.8 206.3 769.1 205.4C769.5 204.4 769.8 203.5 770.2 202.5C770.5 201.6 770.9 200.7 771.3 199.7C771.6 198.8 772.0 197.9 772.3 196.9C772.7 196.0 773.1 195.1 773.4 194.1C773.8 193.2 774.2 192.3 774.5 191.4C774.9 190.4 775.3 189.5 775.7 188.6C776.0 187.7 776.4 186.7 776.8 185.8C777.2 184.9 777.6 184.0 778.0 183.0C778.4 182.1 778.7 181.2 779.1 180.3C779.5 179.4 779.9 178.5 780.3 177.5C780.7 176.6 781.1 175.7 781.6 174.8C782.0 173.9 782.4 173.0 782.8 172.1C783.2 171.2 783.6 170.3 784.0 169.4C784.5 168.5 784.9 167.6 785.3 166.7C785.7 165.8 786.2 164.9 786.6 164.0C787.1 163.1 787.5 162.2 787.9 161.3C788.4 160.4 788.8 159.5 789.3 158.6C789.7 157.7 790.2 156.8 790.6 156.0C791.1 155.1 791.6 154.2 792.0 153.3C792.5 152.4 793.0 151.6 793.5 150.7C793.9 149.8 794.4 148.9 794.9 148.1C795.4 147.2 795.9 146.3 796.4 145.4C796.9 144.6 797.4 143.7 797.9 142.8C798.4 142.0 798.9 141.1 799.4 140.3C799.9 139.4 800.4 138.5 800.9 137.7C801.5 136.8 802.0 136.0 802.5 135.1C803.1 134.3 803.6 133.4 804.1 132.6C804.7 131.7 805.2 130.9 805.8 130.1C806.3 129.2 806.9 128.4 807.5 127.5C808.0 126.7 808.6 125.9 809.2 125.0C809.7 124.2 810.7 123.1 811.0 122.7"/>
<path stroke="#000000" d="M108.2 163.4C108.5 163.8 109.3 165.1 109.8 166.0C110.3 166.8 110.9 167.7 111.4 168.6C111.9 169.4 112.4 170.3 112.8 171.2C113.3 172.1 113.8 172.9 114.2 173.8C114.7 174.7 115.1 175.6 115.6 176.5C116.0 177.4 116.4 178.3 116.8 179.2C117.2 180.2 117.6 181.1 118.0 182.0C118.4 182.9 118.8 183.8 119.1 184.8C119.5 185.7 119.9 186.6 120.2 187.6C120.6 188.5 120.9 189.4 121.2 190.4C121.6 191.3 121.9 192.2 122.2 193.2C122.6 194.1 122.9 195.1 123.2 196.0C123.5 197.0 123.8 197.9 124.1 198.9C124.4 199.9 124.7 200.8 125.0 201.8C125.3 202.7 125.6 203.7 125.9 204.6C126.2 205.6 126.5 206.6 126.8 207.5C127.1 208.5 127.3 209.4 127.6 210.4C127.9 211.4 128.2 212.3 128.5 213.3C128.8 214.2 129.1 215.2 129.4 216.2C129.7 217.1 130.0 218.1 130.3 219.0C130.6 220.0 130.9 220.9 131.2 221.9C131.6 222.8 131.9 223.7 132.3 224.7C132.6 225.6 133.0 226.5 133.4 227.4C133.8 228.3 134.2 229.2 134.6 230.1C135.0 231.0 135.5 231.9 136.0 232.8C136.4 233.7 136.9 234.5 137.4 235.4C138.0 236.2 138.5 237.1 139.1 237.9C139.7 238.8 140.3 239.9 141.0 240.5C141.7 241.1 142.5 241.8 143.3 241.7C144.1 241.6 145.0 240.6 145.7 239.9C146.4 239.1 147.0 238.1 147.6 237.3C148.1 236.4 148.5 235.5 149.0 234.6C149.4 233.7 149.8 232.8 150.2 231.9C150.6 231.0 150.9 230.1 151.3 229.2C151.7 228.3 152.0 227.4 152.4 226.4C152.8 225.5 153.1 224.6 153.5 223.7C153.8 222.7 154.2 221.8 154.5 220.9C154.8 220.0 155.2 219.0 155.5 218.1C155.8 217.1 156.2 216.2 156.5 215.3C156.8 214.3 157.1 213.4 157.5 212.4C157.8 211.5 158.1 210.5 158.4 209.6C158.8 208.6 159.1 207.7 159.4 206.7C159.7 205.8 160.0 204.8 160.4 203.9C160.7 202.9 161.0 202.0 161.3 201.0C161.6 200.1 162.0 199.1 162.3 198.1C162.6 197.2 163.0 196.2 163.3 195.3C163.6 194.3 164.0 193.4 164.3 192.4C164.7 191.5 165.0 190.5 165.4 189.6C165.7 188.6 166.1 187.7 166.4 186.8C166.8 185.8 167.2 184.9 167.5 183.9C167.9 183.0 168.3 182.1 168.7 181.1C169.1 180.2 169.5 179.3 169.9 178.4C170.3 177.4 170.7 176.5 171.1 175.6C171.5 174.7 171.9 173.8 172.4 172.9C172.8 172.0 173.2 171.1 173.7 170.2C174.1 169.3 174.6 168.4 175.1 167.5C175.5 166.6 176.0 165.8 176.5 164.9C177.0 164.0 177.5 163.2 178.0 162.3C178.5 161.5 179.0 160.6 179.5 159.8C180.1 158.9 180.6 158.1 181.2 157.3C181.7 156.4 182.3 155.6 182.9 154.8C183.5 154.0 184.1 153.2 184.7 152.4C185.3 151.6 185.9 150.8 186.5 150.1C187.2 149.3 187.8 148.5 188.5 147.8C189.1 147.0 189.8 146.3 190.5 145.6C191.2 144.8 191.9 144.1 192.6 143.4C193.4 142.7 194.1 142.0 194.9 141.3C195.6 140.6 196.4 140.0 197.2 139.3C198.0 138.7 198.7 138.1 199.6 137.5C200.4 136.9 201.2 136.4 202.0 135.8C202.9 135.3 203.7 134.8 204.6 134.4C205.5 133.9 206.4 133.5 207.2 133.1C208.1 132.7 209.1 132.4 210.0 132.1C210.9 131.8 211.8 131.5 212.8 131.3C213.7 131.1 214.7 131.0 215.6 130.9C216.6 130.8 217.6 130.7 218.6 130.7C219.6 130.7 220.6 130.8 221.5 130.8C222.5 130.9 223.6 131.1 224.6 131.2C225.6 131.4 226.6 131.6 227.6 131.8C228.6 132.0 229.6 132.3 230.6 132.6C231.6 132.9 232.5 133.2 233.5 133.5C234.5 133.9 235.5 134.2 236.4 134.6C237.4 135.0 238.4 135.4 239.3 135.8C240.2 136.2 241.1 136.6 242.1 137.1C243.0 137.5 243.9 138.0 244.8 138.5C245.7 138.9 246.5 139.4 247.4 139.9C248.3 140.4 249.1 140.9 250.0 141.5C250.9 142.0 251.7 142.5 252.5 143.0C253.4 143.6 254.2 144.1 255.0 144.7C255.9 145.2 256.7 145.8 257.5 146.4C258.3 146.9 259.1 147.5 259.9 148.1C260.8 148.6 261.6 149.2 262.4 149.8C263.2 150.4 264.0 151.0 264.8 151.5C265.6 152.1 266.4 152.7 267.2 153.3C268.0 153.9 268.8 154.5 269.6 155.0C270.4 155.6 271.2 156.2 272.0 156.8C272.8 157.4 273.6 157.9 274.5 158.5C275.3 159.1 276.1 159.6 276.9 160.2C277.7 160.7 278.6 161.3 279.4 161.8C280.2 162.3 281.1 162.9 281.9 163.4C282.8 163.9 283.6 164.4 284.5 164.9C285.4 165.4 286.2 165.9 287.1 166.4C288.0 166.9 288.9 167.4 289.7 167.9C290.6 168.4 291.5 168.9 292.4 169.3C293.3 169.8 294.2 170.3 295.0 170.8C295.9 171.2 296.8 171.7 297.7 172.2C298.6 172.7 299.5 173.1 300.4 173.6C301.3 174.1 302.1 174.6 303.0 175.1C303.9 175.5 304.8 176.0 305.6 176.5C306.5 177.0 307.4 177.5 308.3 178.0C309.1 178.6 310.0 179.1 310.8 179.6C311.7 180.1 312.5 180.7 313.4 181.2C314.2 181.8 315.0 182.3 315.8 182.9C316.7 183.5 317.5 184.0 318.3 184.6C319.1 185.2 319.9 185.8 320.7 186.4C321.5 187.0 322.3 187.6 323.1 188.2C323.9 188.9 324.7 189.5 325.4 190.1C326.2 190.7 327.0 191.4 327.7 192.0C328.5 192.7 329.2 193.3 330.0 194.0C330.7 194.7 331.5 195.3 332.2 196.0C332.9 196.7 333.7 197.4 334.4 198.1C335.1 198.8 335.8 199.5 336.5 200.2C337.2 200.9 337.9 201.6 338.6 202.3C339.3 203.1 340.0 203.8 340.7 204.5C341.4 205.2 342.0 206.0 342.7 206.7C343.4 207.5 344.0 208.2 344.7 209.0C345.3 209.8 346.0 210.5 346.6 211.3C347.3 212.1 347.9 212.8 348.5 213.6C349.2 214.4 349.8 215.2 350.4 216.0C351.0 216.8 351.6 217.6 352.2 218.4C352.8 219.2 353.4 220.0 354.0 220.8C354.6 221.6 355.1 222.4 355.7 223.2C356.3 224.1 356.8 224.9 357.4 225.7C358.0 226.5 358.5 227.4 359.1 228.2C359.6 229.0 360.1 229.9 360.7 230.7C361.2 231.6 361.7 232.4 362.2 233.3C362.7 234.1 363.3 235.0 363.8 235.8C364.3 236.7 364.8 237.6 365.2 238.4C365.7 239.3 366.2 240.2 366.7 241.1C367.2 241.9 367.6 242.8 368.1 243.7C368.6 244.6 369.0 245.5 369.5 246.3C369.9 247.2 370.4 248.1 370.8 249.0C371.3 249.9 371.7 250.8 372.1 251.7C372.5 252.6 373.0 253.5 373.4 254.4C373.8 255.3 374.2 256.2 374.6 257.1C375.0 258.0 375.4 259.0 375.8 259.9C376.2 260.8 376.6 261.7 377.0 262.6C377.4 263.6 377.8 264.5 378.1 265.4C378.5 266.3 378.9 267.3 379.2 268.2C379.6 269.1 380.0 270.1 380.3 271.0C380.7 271.9 381.0 272.9 381.4 273.8C381.7 274.7 382.1 275.7 382.4 276.6C382.7 277.6 383.1 278.5 383.4 279.5C383.7 280.4 384.0 281.4 384.4 282.3C384.7 283.3 385.0 284.2 385.3 285.2C385.6 286.1 385.9 287.1 386.2 288.0C386.5 289.0 386.8 289.9 387.1 290.9C387.4 291.9 387.7 292.8 388.0 293.8C388.3 294.8 388.6 295.7 388.8 296.7C389.1 297.6 389.4 298.6 389.7 299.6C390.0 300.5 390.2 301.5 390.5 302.5C390.8 303.5 391.0 304.4 391.3 305.4C391.6 306.4 391.8 307.3 392.1 308.3C392.3 309.3 392.6 310.3 392.8 311.2C393.1 312.2 393.3 313.2 393.6 314.1C393.8 315.1 394.1 316.1 394.3 317.1C394.5 318.0 394.8 319.0 395.0 320.0C395.3 321.0 395.5 321.9 395.7 322.9C395.9 323.9 396.2 324.9 396.4 325.8C396.6 326.8 396.9 327.8 397.1 328.8C397.3 329.8 397.5 330.7 397.7 331.7C398.0 332.7 398.2 333.7 398.4 334.6C398.6 335.6 398.8 336.6 399.0 337.6C399.2 338.6 399.4 339.5 399.6 340.5C399.8 341.5 400.0 342.5 400.2 343.4C400.4 344.4 400.6 345.4 400.8 346.4C401.0 347.4 401.2 348.3 401.4 349.3C401.6 350.3 401.8 351.3 402.0 352.3C402.2 353.2 402.4 354.2 402.6 355.2C402.8 356.2 402.9 357.2 403.1 358.1C403.3 359.1 403.5 360.1 403.7 361.1C403.9 362.1 404.0 363.1 404.2 364.0C404.4 365.0 404.6 366.0 404.7 367.0C404.9 368.0 405.1 368.9 405.2 369.9C405.4 370.9 405.6 371.9 405.7 372.9C405.9 373.9 406.1 374.8 406.2 375.8C406.4 376.8 406.6 377.8 406.7 378.8C406.9 379.8 407.0 380.8 407.2 381.7C407.4 382.7 407.5 383.7 407.7 384.7C407.8 385.7 408.0 386.7 408.1 387.7C408.3 388.6 408.4 389.6 408.6 390.6C408.7 391.6 408.9 392.6 409.0 393.6C409.2 394.6 409.3 395.5 409.5 396.5C409.6 397.5 409.7 398.5 409.9 399.5C410.0 400.5 410.2 401.5 410.3 402.5C410.4 403.4 410.6 404.4 410.7 405.4C410.9 406.4 411.0 407.4 411.1 408.4C411.3 409.4 411.4 410.4 411.5 411.4C411.7 412.3 411.8 413.3 411.9 414.3C412.0 415.3 412.2 416.3 412.3 417.3C412.4 418.3 412.6 419.3 412.7 420.3C412.8 421.3 412.9 422.3 413.1 423.2C413.2 424.2 413.3 425.2 413.4 426.2C413.6 427.2 413.7 428.2 413.8 429.2C413.9 430.2 414.0 431.2 414.2 432.2C414.3 433.2 414.4 434.2 414.5 435.2C414.6 436.2 414.8 437.2 414.9 438.1C415.0 439.1 415.1 440.1 415.2 441.1C415.3 442.1 415.4 443.1 415.6 444.1C415.7 445.1 415.8 446.1 415.9 447.1C416.0 448.1 416.1 449.1 416.2 450.1C416.4 451.1 416.5 452.1 416.6 453.1C416.7 454.1 416.8 455.1 416.9 456.1C417.0 457.1 417.1 458.1 417.2 459.1C417.3 460.1 417.5 461.1 417.6 462.1C417.7 463.1 417.8 464.1 417.9 465.1C418.0 466.1 418.1 467.1 418.2 468.1C418.3 469.1 418.4 470.1 418.5 471.1C418.6 472.1 418.7 473.1 418.9 474.1C419.0 475.1 419.0 476.1 419.2 477.1C419.3 478.0 419.5 479.5 419.6 480.0C419.7 479.5 419.8 478.0 419.9 477.0C420.1 476.0 420.2 475.0 420.3 474.0C420.4 473.0 420.5 472.0 420.6 471.1C420.7 470.1 420.8 469.1 420.9 468.1C421.1 467.1 421.2 466.1 421.3 465.1C421.4 464.1 421.5 463.1 421.6 462.1C421.7 461.1 421.8 460.1 421.9 459.1C422.1 458.1 422.2 457.1 422.3 456.2C422.4 455.2 422.5 454.2 422.6 453.2C422.7 452.2 422.8 451.2 423.0 450.2C423.1 449.2 423.2 448.2 423.3 447.2C423.4 446.2 423.5 445.2 423.6 444.2C423.8 443.2 423.9 442.2 424.0 441.2C424.1 440.2 424.2 439.2 424.3 438.2C424.5 437.2 424.6 436.2 424.7 435.2C424.8 434.2 424.9 433.2 425.1 432.2C425.2 431.2 425.3 430.2 425.4 429.2C425.6 428.2 425.7 427.3 425.8 426.3C425.9 425.3 426.1 424.3 426.2 423.3C426.3 422.3 426.4 421.3 426.6 420.3C426.7 419.3 426.8 418.3 427.0 417.3C427.1 416.3 427.2 415.3 427.4 414.3C427.5 413.3 427.6 412.3 427.8 411.3C427.9 410.3 428.0 409.3 428.2 408.3C428.3 407.3 428.5 406.3 428.6 405.3C428.8 404.3 428.9 403.4 429.0 402.4C429.2 401.4 429.3 400.4 429.5 399.4C429.6 398.4 429.8 397.4 430.0 396.4C430.1 395.4 430.3 394.4 430.4 393.4C430.6 392.4 430.7 391.4 430.9 390.4C431.1 389.5 431.2 388.5 431.4 387.5C431.5 386.5 431.7 385.5 431.9 384.5C432.1 383.5 432.2 382.5 432.4 381.5C432.6 380.6 432.8 379.6 432.9 378.6C433.1 377.6 433.3 376.6 433.5 375.6C433.7 374.6 433.8 373.6 434.0 372.7C434.2 371.7 434.4 370.7 434.6 369.7C434.8 368.7 435.0 367.7 435.2 366.8C435.4 365.8 435.6 364.8 435.8 363.8C436.0 362.8 436.2 361.9 436.4 360.9C436.6 359.9 436.8 358.9 437.0 357.9C437.2 357.0 437.5 356.0 437.7 355.0C437.9 354.0 438.1 353.1 438.3 352.1C438.6 351.1 438.8 350.1 439.0 349.2C439.3 348.2 439.5 347.2 439.7 346.2C440.0 345.3 440.2 344.3 440.5 343.3C440.7 342.4 440.9 341.4 441.2 340.4C441.4 339.5 441.7 338.5 442.0 337.5C442.2 336.6 442.5 335.6 442.7 334.6C443.0 333.7 443.3 332.7 443.5 331.7C443.8 330.8 444.1 329.8 444.4 328.8C444.6 327.9 444.9 326.9 445.2 326.0C445.5 325.0 445.8 324.1 446.0 323.1C446.3 322.1 446.6 321.2 446.9 320.2C447.2 319.3 447.5 318.3 447.8 317.4C448.1 316.4 448.4 315.5 448.7 314.5C449.1 313.6 449.4 312.6 449.7 311.7C450.0 310.7 450.3 309.8 450.6 308.8C451.0 307.9 451.3 306.9 451.6 306.0C451.9 305.0 452.3 304.1 452.6 303.1C452.9 302.2 453.3 301.3 453.6 300.3C454.0 299.4 454.3 298.4 454.7 297.5C455.0 296.5 455.4 295.6 455.7 294.7C456.1 293.7 456.4 292.8 456.8 291.8C457.2 290.9 457.5 290.0 457.9 289.0C458.3 288.1 458.6 287.2 459.0 286.2C459.4 285.3 459.8 284.4 460.1 283.4C460.5 282.5 460.9 281.6 461.3 280.6C461.7 279.7 462.1 278.8 462.5 277.8C462.9 276.9 463.2 276.0 463.7 275.1C464.1 274.1 464.5 273.2 464.9 272.3C465.3 271.3 465.7 270.4 466.1 269.5C466.5 268.6 466.9 267.7 467.4 266.8C467.8 265.8 468.2 264.9 468.7 264.0C469.1 263.1 469.5 262.2 470.0 261.3C470.4 260.4 470.9 259.5 471.4 258.6C471.8 257.7 472.3 256.8 472.8 255.9C473.2 255.0 473.7 254.1 474.2 253.2C474.7 252.4 475.2 251.5 475.7 250.6C476.2 249.7 476.7 248.9 477.2 248.0C477.7 247.1 478.2 246.3 478.7 245.4C479.3 244.6 479.8 243.7 480.3 242.9C480.9 242.1 481.4 241.2 482.0 240.4C482.5 239.6 483.1 238.7 483.7 237.9C484.3 237.1 484.8 236.3 485.4 235.5C486.0 234.7 486.6 233.9 487.2 233.1C487.8 232.3 488.4 231.5 489.0 230.7C489.7 229.9 490.3 229.2 490.9 228.4C491.6 227.6 492.2 226.9 492.8 226.1C493.5 225.4 494.1 224.6 494.8 223.9C495.5 223.1 496.1 222.4 496.8 221.6C497.5 220.9 498.2 220.2 498.8 219.4C499.5 218.7 500.2 218.0 500.9 217.3C501.6 216.6 502.3 215.9 503.0 215.2C503.8 214.5 504.5 213.8 505.2 213.1C505.9 212.4 506.6 211.7 507.4 211.1C508.1 210.4 508.9 209.7 509.6 209.1C510.4 208.4 511.1 207.8 511.9 207.1C512.6 206.5 513.4 205.8 514.2 205.2C514.9 204.5 515.7 203.9 516.5 203.3C517.3 202.7 518.0 202.0 518.8 201.4C519.6 200.8 520.4 200.2 521.2 199.6C522.0 199.0 522.8 198.4 523.6 197.8C524.4 197.2 525.3 196.6 526.1 196.1C526.9 195.5 527.7 194.9 528.5 194.4C529.4 193.8 530.2 193.2 531.0 192.7C531.9 192.1 532.7 191.6 533.6 191.0C534.4 190.5 535.3 190.0 536.1 189.4C537.0 188.9 537.8 188.4 538.7 187.9C539.5 187.4 540.4 186.9 541.3 186.3C542.1 185.8 543.0 185.3 543.9 184.9C544.8 184.4 545.6 183.9 546.5 183.4C547.4 182.9 548.3 182.4 549.2 182.0C550.1 181.5 551.0 181.0 551.9 180.6C552.7 180.1 553.6 179.7 554.5 179.2C555.4 178.8 556.3 178.3 557.3 177.9C558.2 177.5 559.1 177.0 560.0 176.6C560.9 176.2 561.8 175.8 562.7 175.3C563.6 174.9 564.6 174.5 565.5 174.1C566.4 173.7 567.3 173.3 568.2 172.9C569.2 172.5 570.1 172.1 571.0 171.7C572.0 171.4 572.9 171.0 573.8 170.6C574.8 170.2 575.7 169.9 576.6 169.5C577.6 169.1 578.5 168.8 579.5 168.4C580.4 168.1 581.3 167.7 582.3 167.4C583.2 167.0 584.2 166.7 585.1 166.4C586.1 166.0 587.0 165.7 588.0 165.4C588.9 165.1 589.9 164.7 590.8 164.4C591.8 164.1 592.7 163.8 593.7 163.5C594.6 163.2 595.6 162.9 596.5 162.6C597.5 162.3 598.5 162.0 599.4 161.7C600.4 161.4 601.3 161.2 602.3 160.9C603.3 160.6 604.2 160.3 605.2 160.1C606.1 159.8 607.1 159.6 608.1 159.3C609.0 159.1 610.0 158.8 611.0 158.6C612.0 158.3 612.9 158.1 613.9 157.9C614.9 157.6 615.8 157.4 616.8 157.2C617.8 157.0 618.8 156.8 619.7 156.5C620.7 156.3 621.7 156.1 622.7 155.9C623.7 155.7 624.6 155.6 625.6 155.4C626.6 155.2 627.6 155.0 628.6 154.8C629.5 154.7 630.5 154.5 631.5 154.3C632.5 154.2 633.5 154.0 634.5 153.9C635.5 153.7 636.5 153.6 637.4 153.4C638.4 153.3 639.4 153.2 640.4 153.0C641.4 152.9 642.4 152.8 643.4 152.7C644.4 152.5 645.4 152.4 646.4 152.3C647.4 152.2 648.4 152.1 649.4 152.0C650.4 151.9 651.4 151.8 652.4 151.7C653.4 151.6 654.4 151.5 655.4 151.4C656.3 151.3 657.3 151.2 658.3 151.1C659.3 151.0 660.3 150.9 661.3 150.9C662.3 150.8 663.3 150.7 664.4 150.6C665.4 150.5 666.4 150.5 667.4 150.4C668.4 150.3 669.4 150.2 670.4 150.1C671.4 150.1 672.4 150.0 673.4 149.9C674.4 149.8 675.4 149.8 676.4 149.7C677.4 149.6 678.4 149.6 679.4 149.5C680.4 149.4 681.4 149.3 682.4 149.3C683.4 149.2 684.4 149.1 685.4 149.0C686.4 148.9 687.4 148.9 688.4 148.8C689.4 148.7 690.4 148.6 691.4 148.5C692.4 148.5 693.4 148.4 694.4 148.3C695.4 148.2 696.4 148.1 697.4 148.0C698.4 147.9 699.4 147.9 700.4 147.8C701.4 147.7 702.4 147.6 703.4 147.5C704.4 147.4 705.4 147.3 706.4 147.2C707.4 147.1 708.4 147.0 709.4 146.9C710.4 146.8 711.4 146.7 712.4 146.6C713.4 146.6 714.4 146.5 715.4 146.4C716.4 146.3 717.4 146.2 718.4 146.1C719.4 146.0 720.4 145.9 721.4 145.8C722.4 145.7 723.3 145.6 724.3 145.5C725.3 145.4 726.3 145.4 727.3 145.3C728.3 145.2 729.3 145.1 730.3 145.0C731.3 144.9 732.3 144.8 733.3 144.8C734.3 144.7 735.3 144.6 736.3 144.5C737.3 144.4 738.3 144.4 739.3 144.3C740.3 144.2 741.3 144.1 742.3 144.1C743.3 144.0 744.3 143.9 745.3 143.9C746.3 143.8 747.3 143.7 748.3 143.7C749.3 143.6 750.3 143.5 751.3 143.5C752.3 143.4 753.3 143.4 754.3 143.3C755.3 143.3 756.3 143.2 757.3 143.2C758.3 143.2 759.3 143.1 760.3 143.1C761.3 143.1 762.3 143.0 763.3 143.0C764.3 143.0 765.3 143.0 766.3 142.9C767.3 142.9 768.3 142.9 769.3 142.9C770.3 142.9 771.3 142.9 772.3 142.9C773.3 142.9 774.3 142.9 775.3 142.9C776.3 142.9 777.3 142.9 778.3 142.9C779.3 142.9 780.3 142.9 781.3 142.9C782.3 142.9 783.3 142.9 784.3 142.9C785.3 142.9 786.3 142.9 787.3 142.9C788.3 142.9 789.3 142.8 790.3 142.8C791.3 142.8 792.3 142.8 793.3 142.8C794.3 142.7 795.3 142.7 796.3 142.7C797.3 142.6 798.3 142.6 799.3 142.5C800.3 142.5 801.3 142.4 802.3 142.4C803.3 142.3 804.3 142.2 805.3 142.1C806.3 142.0 807.3 142.0 808.3 141.8C809.3 141.6 810.7 141.1 811.2 140.9"/>
</g>
<!-- ticks -->
<g stroke="#000" stroke-width="1.35" fill="none">
<path d="M209 447.9v-7.5M309.4 447.9v-7.5M409.6 447.9v-7.5M510 447.9v-7.5M610.4 447.9v-7.5M710.6 447.9v-7.5"/>
<path d="M209 0.3v7.5M309.4 0.3v7.5M409.6 0.3v7.5M510 0.3v7.5M610.4 0.3v7.5M710.6 0.3v7.5"/>
<path d="M108.7 112.4h7.5M108.7 224.2h7.5M108.7 336h7.5"/>
<path d="M811 112.4h-7.5M811 224.2h-7.5M811 336h-7.5"/>
</g>
<!-- legend -->
<rect x="117.2" y="320.1" width="171.3" height="121" fill="#fff" stroke="#0d0d0d" stroke-width="1.2"/>
<g fill="none" stroke-width="4.5">
<path stroke="#ff0000" stroke-dasharray="14 2.9 7.4 2.9" d="M124 342.2H193"/>
<path stroke="#0000ff" stroke-dasharray="14 13.2" d="M124 380.4H193"/>
<path stroke="#000" d="M124 419.4H193"/>
</g>
<g class="leg">
<text x="197.5" y="353">Step 1</text>
<text x="197.5" y="391.2">Step 2</text>
<text x="197.5" y="430">Step 3</text>
</g>
<!-- y tick labels -->
<g class="tick" text-anchor="end">
<text x="95.9" y="124.7">-10</text>
<text x="95.9" y="236.5">-20</text>
<text x="95.9" y="348.3">-30</text>
<text x="95.9" y="459.9">-40</text>
</g>
<!-- x tick labels -->
<g class="tick" text-anchor="middle">
<text x="108" y="492.9">26</text>
<text x="208.3" y="492.9">28</text>
<text x="308.7" y="492.9">30</text>
<text x="409" y="492.9">32</text>
<text x="509.3" y="492.9">34</text>
<text x="609.7" y="492.9">36</text>
<text x="710" y="492.9">38</text>
<text x="810.3" y="492.9">40</text>
</g>
<!-- x label -->
<text class="lab" x="460" y="541.6" text-anchor="middle">Frequency (GHz)</text>
<!-- y label -->
<g stroke="#000" stroke-width="1.6" fill="none">
<path d="M-1 301.8H35.6M-1 237.3H35.6"/>
</g>
<g transform="rotate(-90)">
<text class="lab" x="-298.7" y="27.8">S</text>
<text transform="translate(-275.6 47.4) scale(0.91 1)" x="0" y="0" font-size="32.3px">11</text>
<text class="lab" x="-223.4" y="27.8">(dB)</text>
</g>
</svg>
</body>
</html>
